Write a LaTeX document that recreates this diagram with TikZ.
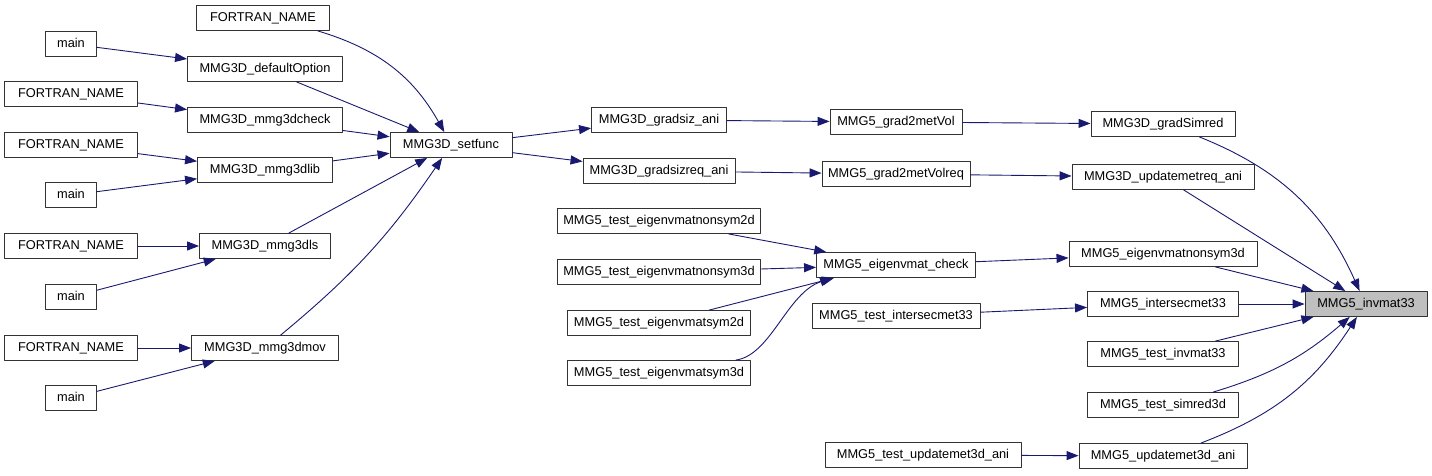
\documentclass[tikz,border=0pt]{standalone}
\usepackage{fontspec}
\setmainfont{Liberation Sans}
\usepackage{tikz}
\usetikzlibrary{arrows.meta}
\definecolor{edgeblue}{HTML}{191970}
\definecolor{hitgray}{HTML}{BFBFBF}
\tikzset{
  every picture/.style={line join=round, line cap=round},
  fn/.style={draw=black!80, line width=0.9pt, fill=white, inner xsep=3pt, inner ysep=0pt,
    minimum height=25pt, text height=9.4pt, text depth=2.9pt, font=\fontsize{12.8}{15}\selectfont},
  hit/.style={fn, fill=hitgray},
  call/.style={draw=edgeblue, line width=0.9pt, -{Triangle[length=12pt,width=9pt]}},
}

\begin{document}
\begin{tikzpicture}[x=1pt,y=-1pt]
\useasboundingbox (0,0) rectangle (1432,475);
% callers of the setup routines
\node[fn,minimum width=133pt](fna) at (263,18){FORTRAN\_NAME};
\node[fn,minimum width=51pt](maina) at (71,44){main};
\node[fn,minimum width=133pt](fnb) at (71,94){FORTRAN\_NAME};
\node[fn,minimum width=133pt](fnc) at (71,145){FORTRAN\_NAME};
\node[fn,minimum width=51pt](mainb) at (71,195){main};
\node[fn,minimum width=133pt](fnd) at (71,246){FORTRAN\_NAME};
\node[fn,minimum width=51pt](mainc) at (71,297){main};
\node[fn,minimum width=133pt](fne) at (71,348){FORTRAN\_NAME};
\node[fn,minimum width=51pt](maind) at (71,398){main};
\node[fn,minimum width=155pt](defopt) at (265,69){MMG3D\_defaultOption};
\node[fn,minimum width=155pt](check3d) at (265,120){MMG3D\_mmg3dcheck};
\node[fn,minimum width=135pt](lib3d) at (265,170){MMG3D\_mmg3dlib};
\node[fn,minimum width=131pt](ls3d) at (265,246){MMG3D\_mmg3dls};
\node[fn,minimum width=147pt](mov3d) at (265,348){MMG3D\_mmg3dmov};
\node[fn,minimum width=122pt](setfunc) at (451,145){MMG3D\_setfunc};
% middle columns
\node[fn,minimum width=135pt](gradsiz) at (659,120){MMG3D\_gradsiz\_ani};
\node[fn,minimum width=152pt](gradsizreq) at (659,171){MMG3D\_gradsizreq\_ani};
\node[fn,minimum width=203pt](tnonsymb) at (659,221){MMG5\_test\_eigenvmatnonsym2d};
\node[fn,minimum width=203pt](tnonsymc) at (659,272){MMG5\_test\_eigenvmatnonsym3d};
\node[fn,minimum width=183pt](tsymb) at (659,323){MMG5\_test\_eigenvmatsym2d};
\node[fn,minimum width=183pt](tsymc) at (659,373){MMG5\_test\_eigenvmatsym3d};
\node[fn,minimum width=132pt](gradmet) at (896,122){MMG5\_grad2metVol};
\node[fn,minimum width=148pt](gradmetreq) at (896,174){MMG5\_grad2metVolreq};
\node[fn,minimum width=159pt](eigcheck) at (896,265){MMG5\_eigenvmat\_check};
\node[fn,minimum width=168pt](tinter) at (896,316){MMG5\_test\_intersecmet33};
\node[fn,minimum width=196pt](tupd) at (923,455){MMG5\_test\_updatemet3d\_ani};
% direct callers
\node[fn,minimum width=144pt](simred) at (1163,124){MMG3D\_gradSimred};
\node[fn,minimum width=182pt](updreq) at (1163,177){MMG3D\_updatemetreq\_ani};
\node[fn,minimum width=188pt](eignonsym) at (1163,254){MMG5\_eigenvmatnonsym3d};
\node[fn,minimum width=151pt](inter) at (1163,304){MMG5\_intersecmet33};
\node[fn,minimum width=151pt](tinv) at (1163,354){MMG5\_test\_invmat33};
\node[fn,minimum width=151pt](tsimred) at (1163,405){MMG5\_test\_simred3d};
\node[fn,minimum width=168pt](upd) at (1163,456){MMG5\_updatemet3d\_ani};
\node[hit,minimum width=122pt](invmat) at (1366,304){MMG5\_invmat33};

\draw[call](maina)--(defopt);
\draw[call](fnb)--(check3d);
\draw[call](fnc)--(lib3d);
\draw[call](mainb)--(lib3d);
\draw[call](fnd)--(ls3d);
\draw[call](mainc)--(ls3d);
\draw[call](fne)--(mov3d);
\draw[call](maind)--(mov3d);
\draw[call]([xshift=-12pt]fna.south east) to[bend left=22] (setfunc);
\draw[call](defopt)--(setfunc);
\draw[call](check3d)--(setfunc);
\draw[call](lib3d)--(setfunc);
\draw[call](ls3d)--(setfunc);
\draw[call](mov3d) to[bend right=8] (setfunc);
\draw[call](setfunc)--(gradsiz);
\draw[call](setfunc)--(gradsizreq);
\draw[call](gradsiz)--(gradmet);
\draw[call](gradsizreq)--(gradmetreq);
\draw[call](tnonsymb)--(eigcheck);
\draw[call](tnonsymc)--(eigcheck);
\draw[call](tsymb)--([xshift=18pt]eigcheck.south west);
\draw[call]([xshift=-15pt]tsymc.north east) .. controls +(35,-5) and +(-45,15) .. ([xshift=16pt]eigcheck.south west);
\draw[call](gradmet)--(simred);
\draw[call](gradmetreq)--(updreq);
\draw[call](eigcheck)--(eignonsym);
\draw[call](tinter)--(inter);
\draw[call](tupd)--(upd);
\draw[call](simred) to[bend left=22] (invmat);
\draw[call](updreq)--(invmat);
\draw[call](eignonsym)--(invmat);
\draw[call](inter)--(invmat);
\draw[call](tinv)--(invmat);
\draw[call](tsimred) to[bend right=12] (invmat);
\draw[call](upd) to[bend right=18] (invmat);
\end{tikzpicture}
\end{document}
